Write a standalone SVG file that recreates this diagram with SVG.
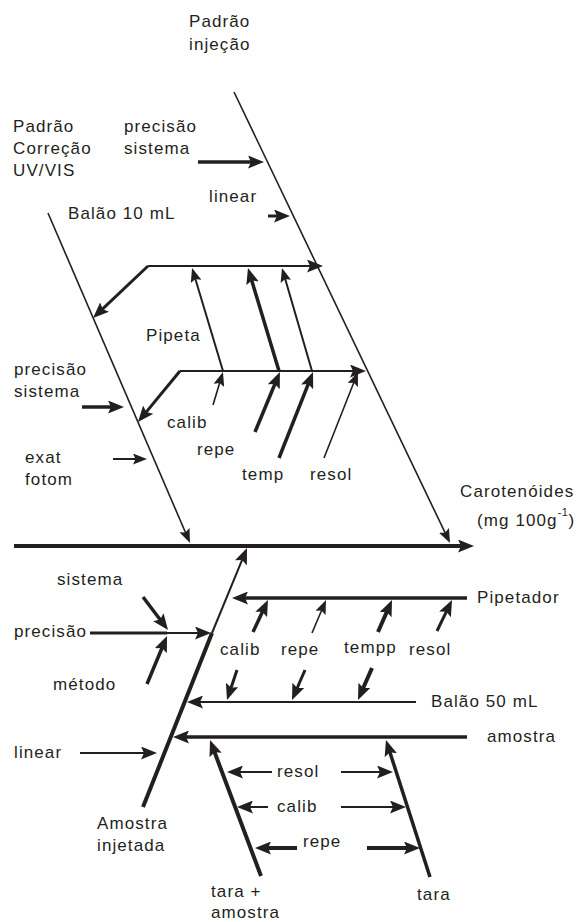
<svg xmlns="http://www.w3.org/2000/svg" width="578" height="922" viewBox="0 0 578 922">
  <style>
    .lbl { font-family: "Liberation Sans", Arial, sans-serif; font-size: 17px; letter-spacing: 1.1px; fill: #231f20; }
    .sup { font-size: 11px; letter-spacing: 0.5px; }
    .ln { stroke: #231f20; fill: none; stroke-linecap: butt; }
    .w16 { stroke-width: 1.6; }
    .w2 { stroke-width: 2; }
    .w3 { stroke-width: 3; }
    .w35 { stroke-width: 3.5; }
    .w4 { stroke-width: 4; }
    .ha { marker-end: url(#ha); }
    .hb { marker-end: url(#hb); }
  </style>
  <defs>
    <!-- small arrowhead: line end sits 4px behind the tip -->
    <marker id="ha" markerUnits="userSpaceOnUse" viewBox="0 0 14 11" refX="10" refY="5.5" markerWidth="14" markerHeight="11" orient="auto">
      <path d="M0,0 L14,5.5 L0,11 L2.5,5.5 z" fill="#231f20"/>
    </marker>
    <!-- large arrowhead: line end sits 6px behind the tip -->
    <marker id="hb" markerUnits="userSpaceOnUse" viewBox="0 0 16 13" refX="10" refY="6.5" markerWidth="16" markerHeight="13" orient="auto">
      <path d="M0,0 L16,6.5 L0,13 L3,6.5 z" fill="#231f20"/>
    </marker>
  </defs>

  <rect width="578" height="922" fill="#ffffff"/>

  <g id="connectors">
    <!-- main spine -->
    <line class="ln w4 hb" x1="14" y1="546" x2="468" y2="546"/>

    <!-- upper branches -->
    <line class="ln w16 ha" x1="234" y1="92" x2="448.3" y2="539.4"/>
    <line class="ln w16 ha" x1="48" y1="213" x2="188.4" y2="539.3"/>
    <line class="ln w35 hb" x1="198" y1="162" x2="258" y2="162"/>
    <line class="ln w3 hb" x1="268" y1="216" x2="284" y2="216"/>

    <!-- Balão 10 mL frame -->
    <line class="ln w2 hb" x1="148" y1="266" x2="317" y2="266"/>
    <line class="ln w3 hb" x1="148" y1="266" x2="97.4" y2="313.9"/>
    <!-- Pipeta frame -->
    <line class="ln w2 hb" x1="180" y1="371" x2="360" y2="371"/>
    <line class="ln w3 hb" x1="180" y1="371" x2="141.8" y2="417.4"/>

    <line class="ln w2 ha" x1="223" y1="371" x2="193.2" y2="271.8"/>
    <line class="ln w35 hb" x1="279" y1="371" x2="249.7" y2="273.7"/>
    <line class="ln w2 ha" x1="312" y1="371" x2="283.1" y2="271.8"/>

    <line class="ln w16 ha" x1="213" y1="405" x2="221.8" y2="375.8"/>
    <line class="ln w35 hb" x1="255" y1="432" x2="277.6" y2="377.5"/>
    <line class="ln w35 hb" x1="279" y1="458" x2="310.8" y2="377.6"/>
    <line class="ln w16 ha" x1="324" y1="458" x2="356.5" y2="375.7"/>

    <line class="ln w35 hb" x1="82" y1="407" x2="118" y2="407"/>
    <line class="ln w2 ha" x1="113" y1="459" x2="143" y2="459"/>

    <!-- lower branch: Amostra injetada -->
    <line class="ln w4" x1="143" y1="807" x2="212" y2="633"/>
    <line class="ln w2 hb" x1="212" y1="633" x2="244.7" y2="553.6"/>
    <line class="ln w35 hb" x1="143" y1="597" x2="164.4" y2="625.2"/>
    <line class="ln w3" x1="90" y1="633" x2="167" y2="633"/>
    <line class="ln w2 hb" x1="167" y1="633" x2="205" y2="633"/>
    <line class="ln w35 hb" x1="147" y1="684" x2="164.7" y2="641.5"/>
    <line class="ln w2 hb" x1="80" y1="753" x2="151" y2="753"/>

    <!-- Pipetador -->
    <line class="ln w35 hb" x1="467" y1="598" x2="238" y2="598"/>
    <line class="ln w35 hb" x1="253" y1="632" x2="265.4" y2="605.4"/>
    <line class="ln w16 ha" x1="312" y1="633" x2="324.4" y2="603.7"/>
    <line class="ln w4 hb" x1="378" y1="632" x2="389.6" y2="605.5"/>
    <line class="ln w3 hb" x1="437" y1="631" x2="449.4" y2="605.4"/>

    <!-- Balão 50 mL -->
    <line class="ln w2 hb" x1="416" y1="702" x2="193" y2="702"/>
    <line class="ln w3 hb" x1="237" y1="670" x2="228.9" y2="694.3"/>
    <line class="ln w3 hb" x1="305" y1="670" x2="294.4" y2="694.5"/>
    <line class="ln w4 hb" x1="372" y1="668" x2="360.4" y2="694.5"/>

    <!-- amostra -->
    <line class="ln w35 hb" x1="467" y1="737" x2="179" y2="737"/>
    <line class="ln w4 hb" x1="261" y1="876" x2="212.1" y2="745.6"/>
    <line class="ln w35 hb" x1="430" y1="877" x2="387.8" y2="745.7"/>

    <line class="ln w2 hb" x1="272" y1="772" x2="233" y2="772"/>
    <line class="ln w2 hb" x1="341" y1="772" x2="387" y2="772"/>
    <line class="ln w2 hb" x1="268" y1="807" x2="243" y2="807"/>
    <line class="ln w2 hb" x1="341" y1="807" x2="400" y2="807"/>
    <line class="ln w4 hb" x1="297" y1="848" x2="261" y2="848"/>
    <line class="ln w4 hb" x1="367" y1="848" x2="414" y2="848"/>
  </g>

  <g id="padrao-injecao"><text class="lbl" x="189" y="27">Padrão</text><text class="lbl" x="189" y="50">injeção</text></g>
  <g id="padrao-correcao"><text class="lbl" x="13" y="132">Padrão</text><text class="lbl" x="13" y="154">Correção</text><text class="lbl" x="13" y="176">UV/VIS</text></g>
  <g id="precisao-sistema-1"><text class="lbl" x="124" y="132">precisão</text><text class="lbl" x="124" y="154">sistema</text></g>
  <g id="linear-1"><text class="lbl" x="209" y="202">linear</text></g>
  <g id="balao-10"><text class="lbl" x="68" y="219">Balão 10 mL</text></g>
  <g id="pipeta"><text class="lbl" x="146" y="341">Pipeta</text></g>
  <g id="precisao-sistema-2"><text class="lbl" x="14" y="375">precisão</text><text class="lbl" x="14" y="397">sistema</text></g>
  <g id="calib-1"><text class="lbl" x="167" y="428">calib</text></g>
  <g id="repe-1"><text class="lbl" x="197" y="455">repe</text></g>
  <g id="exat-fotom"><text class="lbl" x="25" y="463">exat</text><text class="lbl" x="25" y="485">fotom</text></g>
  <g id="temp-1"><text class="lbl" x="242" y="480">temp</text></g>
  <g id="resol-1"><text class="lbl" x="310" y="480">resol</text></g>
  <g id="carotenoides"><text class="lbl" x="460" y="497">Carotenóides</text><text class="lbl" x="477" y="526">(mg 100g<tspan class="sup" dy="-10">-1</tspan><tspan dy="10">)</tspan></text></g>

  <g id="sistema"><text class="lbl" x="57" y="585">sistema</text></g>
  <g id="precisao"><text class="lbl" x="14" y="637">precisão</text></g>
  <g id="metodo"><text class="lbl" x="53" y="690">método</text></g>
  <g id="linear-2"><text class="lbl" x="14" y="758">linear</text></g>
  <g id="amostra-injetada"><text class="lbl" x="97" y="829">Amostra</text><text class="lbl" x="97" y="851">injetada</text></g>
  <g id="pipetador"><text class="lbl" x="477" y="603">Pipetador</text></g>
  <g id="calib-2"><text class="lbl" x="220" y="655">calib</text></g>
  <g id="repe-2"><text class="lbl" x="281" y="655">repe</text></g>
  <g id="tempp"><text class="lbl" x="344" y="653">tempp</text></g>
  <g id="resol-2"><text class="lbl" x="409" y="655">resol</text></g>
  <g id="balao-50"><text class="lbl" x="431" y="707">Balão 50 mL</text></g>
  <g id="amostra"><text class="lbl" x="487" y="742">amostra</text></g>
  <g id="resol-3"><text class="lbl" x="277" y="777">resol</text></g>
  <g id="calib-3"><text class="lbl" x="277" y="812">calib</text></g>
  <g id="repe-3"><text class="lbl" x="303" y="847">repe</text></g>
  <g id="tara-amostra"><text class="lbl" x="211" y="897">tara +</text><text class="lbl" x="211" y="918">amostra</text></g>
  <g id="tara"><text class="lbl" x="417" y="900">tara</text></g>
</svg>
